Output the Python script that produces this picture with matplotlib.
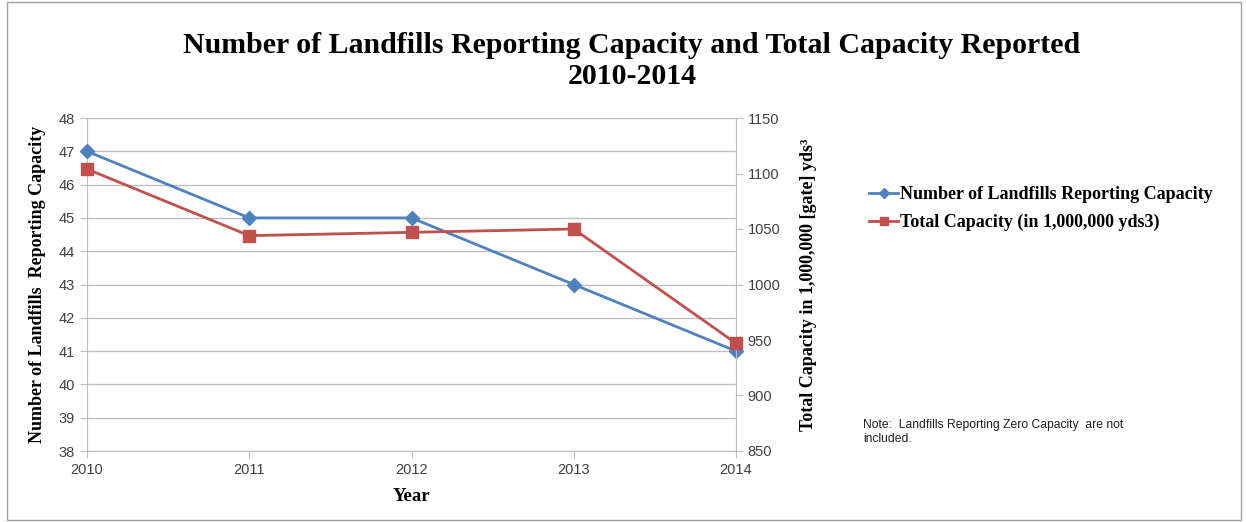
import matplotlib
matplotlib.use("Agg")
import matplotlib.pyplot as plt
from matplotlib.patches import Rectangle

years = [2010, 2011, 2012, 2013, 2014]
landfills = [47, 45, 45, 43, 41]
capacity = [1104, 1044, 1047, 1050, 947]
left_ticks = list(range(38, 49))
right_ticks = list(range(850, 1151, 50))

serif = "Liberation Serif"
sans = "Liberation Sans"
blue = "#4F81BD"
red = "#C0504D"
grid = "#BFBFBF"
tickc = "#404040"

fig = plt.figure(figsize=(12.46, 5.22), dpi=100)
fig.patches.append(Rectangle((0.006, 0.004), 0.99, 0.992, transform=fig.transFigure,
                             fill=False, edgecolor="#A0A0A0", linewidth=1.0))

ax = fig.add_axes([87/1246, 71/522, (736-87)/1246, (451-118)/522])
ax2 = ax.twinx()

ax.set_xlim(2010, 2014)
ax.set_ylim(38, 48)
ax2.set_ylim(850, 1150)
ax.set_xticks(years)
ax.set_yticks(left_ticks)
ax2.set_yticks(right_ticks)
ax.yaxis.grid(True, color=grid, linewidth=1.0)
ax.set_axisbelow(True)

for a in (ax, ax2):
    for s in a.spines.values():
        s.set_color(grid)
    a.spines["top"].set_visible(False)
ax.spines["right"].set_visible(False)
ax2.spines["left"].set_visible(False)
ax2.spines["bottom"].set_visible(False)

ax.tick_params(axis="both", colors=grid, labelcolor=tickc, labelsize=10.5, length=5)
ax2.tick_params(axis="y", colors=grid, labelcolor=tickc, labelsize=10.5, length=5)
for lab in ax.get_xticklabels() + ax.get_yticklabels() + ax2.get_yticklabels():
    lab.set_family(sans)

ax.plot(years, landfills, color=blue, linewidth=2, marker="D", markersize=7,
        label="Number of Landfills Reporting Capacity", clip_on=False, zorder=3)
ax2.plot(years, capacity, color=red, linewidth=2, marker="s", markersize=9,
         label="Total Capacity (in 1,000,000 yds3)", clip_on=False, zorder=3)

ax.set_xlabel("Year", family=serif, fontweight="bold", fontsize=13.5, labelpad=8)
ax.set_ylabel("Number of Landfills  Reporting Capacity", family=serif,
              fontweight="bold", fontsize=13, labelpad=9)
ax2.set_ylabel("Total Capacity in 1,000,000 [gate] yds\u00b3", family=serif,
               fontweight="bold", fontsize=13, labelpad=14)

fig.text(632/1246, 1-45/522, "Number of Landfills Reporting Capacity and Total Capacity Reported",
         ha="center", va="center", family=serif, fontweight="bold", fontsize=21.5)
fig.text(632/1246, 1-77/522, "2010-2014", ha="center", va="center",
         family=serif, fontweight="bold", fontsize=21.5)

h1, lb1 = ax.get_legend_handles_labels()
h2, lb2 = ax2.get_legend_handles_labels()
fig.legend(h1 + h2, lb1 + lb2, loc="upper left", bbox_to_anchor=(853/1246, 1-170/522),
           frameon=False, prop={"family": serif, "weight": "bold", "size": 13},
           handlelength=1.6, handletextpad=0.1, labelspacing=0.6, markerscale=0.7)

fig.text(863/1246, 1-432/522, "Note:  Landfills Reporting Zero Capacity  are not\nincluded.",
         ha="left", va="center", family=sans, fontsize=8.7, color="#202020", linespacing=1.3)

fig.savefig("out.png", dpi=100)
